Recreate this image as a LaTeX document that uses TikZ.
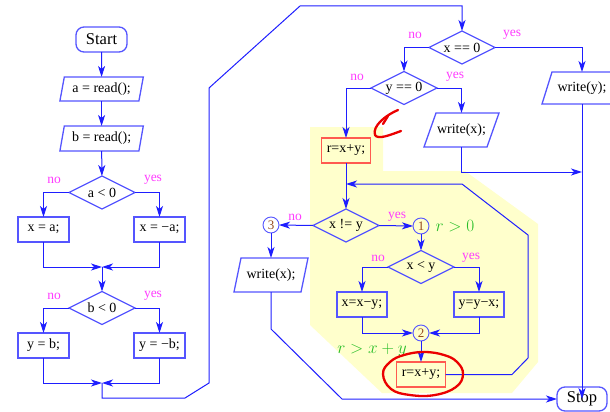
\documentclass[tikz,border=0pt]{standalone}
\usepackage{fontspec}
\setmainfont{Liberation Serif}
\usetikzlibrary{arrows.meta,shapes.geometric}
\definecolor{lineblue}{RGB}{30,30,255}
\definecolor{nodeblue}{RGB}{85,85,255}
\definecolor{lblmag}{RGB}{255,60,255}
\definecolor{numbrown}{RGB}{150,75,30}
\definecolor{condgreen}{RGB}{40,190,40}
\definecolor{boxred}{RGB}{255,90,80}
\definecolor{markred}{RGB}{235,0,0}
\definecolor{hiyellow}{RGB}{255,255,204}
% parallelogram: name, position, edge width, height, half slant, text
\newcommand\pio[6]{%
  \node[iotxt, minimum width=#3, minimum height=#4] (#1) at #2 {#6};
  \draw[iobord] ([xshift=#5]#1.north west) -- ([xshift=#5]#1.north east)
    -- ([xshift=-#5]#1.south east) -- ([xshift=-#5]#1.south west) -- cycle;}
\begin{document}
\begin{tikzpicture}[x=1pt,y=-1pt,
  txt/.style={font=\fontsize{14}{16}\selectfont},
  conn/.style={draw=lineblue, line width=1pt},
  arr/.style={conn, -{Stealth[length=11pt,width=7pt,inset=3pt]}},
  bbox/.style={txt, draw=nodeblue, line width=1.3pt, minimum width=51, minimum height=25, inner sep=0pt, outer sep=0pt},
  rbox/.style={txt, draw=boxred, line width=1.3pt, minimum width=49, minimum height=25, inner sep=0pt, outer sep=0pt},
  term/.style={draw=nodeblue, line width=1.3pt, rounded corners=8pt, minimum width=51, minimum height=25, inner sep=0pt, outer sep=0pt, font=\fontsize{16.5}{18}\selectfont},
  iotxt/.style={txt, inner sep=0pt, outer sep=0pt},
  iobord/.style={draw=nodeblue, line width=1.3pt},
  dia/.style={txt, diamond, aspect=2, draw=nodeblue, line width=1.3pt, minimum width=66, minimum height=33, inner sep=0pt, outer sep=0pt},
  circ/.style={circle, draw=nodeblue, line width=0.9pt, minimum size=16, inner sep=0pt, outer sep=0pt, text=numbrown, font=\fontsize{13}{14}\selectfont},
  lbl/.style={text=lblmag, font=\fontsize{13.5}{15}\selectfont, inner sep=0pt},
  cond/.style={text=condgreen, font=\fontsize{16}{18}\selectfont, inner sep=0pt},
  redmark/.style={draw=markred, line width=2.3pt, line cap=round, line join=round}]
\useasboundingbox (0,0) rectangle (610,412);
% highlighted region
\fill[hiyellow] (310,127) -- (383,127) -- (383,171) -- (465,171) -- (538,224)
  -- (538,362) -- (512,393) -- (382,393) -- (310,325) -- cycle;

% ---------- left column ----------
\node[term] (start) at (101.5,39.5) {Start};
\pio{ra}{(101.6,89)}{79}{24}{2.2}{a = read();}
\pio{rb}{(101.6,138.5)}{79}{25}{2.2}{b = read();}
\node[dia] (da) at (102,192.5) {a < 0};
\node[bbox] (xa) at (43.5,229.5) {x = a;};
\node[bbox] (xna) at (159.5,229.5) {x = −a;};
\node[dia] (db) at (102,308) {b < 0};
\node[bbox] (yb) at (43.5,345.5) {y = b;};
\node[bbox] (ynb) at (159.5,345.5) {y = −b;};
\node[lbl] (lna) at (54,180) {no};
\node[lbl] (lya) at (153,180) {yes};
\node[lbl] (lnb) at (54,296) {no};
\node[lbl] (lyb) at (153,296) {yes};
\coordinate (m1) at (102,267);
\coordinate (m2) at (102,383);

\draw[arr] (start) -- (ra);
\draw[arr] (ra) -- (rb);
\draw[arr] (rb) -- (da);
\draw[arr] (da.west) -| (xa.north);
\draw[arr] (da.east) -| (xna.north);
\draw[arr] (xa.south) |- (m1);
\draw[arr] (xna.south) |- (m1);
\draw[arr] (m1) -- (db.north);
\draw[arr] (db.west) -| (yb.north);
\draw[arr] (db.east) -| (ynb.north);
\draw[arr] (yb.south) |- (m2);
\draw[arr] (ynb.south) |- (m2);

% ---------- right part ----------
\node[dia] (dx0) at (462,47.5) {x == 0};
\node[dia] (dy0) at (404,88) {y == 0};
\pio{wy}{(582,88)}{70}{32}{5}{write(y);}
\pio{wx1}{(461.5,130)}{63}{34}{6}{write(x);}
\node[rbox] (r1) at (346,150.5) {r=x+y;};
\node[dia] (dne) at (346,225.5) {x != y};
\node[circ] (c1) at (421,226) {1};
\node[circ] (c3) at (271,225) {3};
\pio{wx2}{(271,275)}{67}{34}{3.5}{write(x);}
\node[dia] (dxy) at (421,267) {x < y};
\node[bbox, minimum width=50] (xxy) at (362,304.5) {x=x−y;};
\node[bbox, minimum width=50] (yyx) at (479,304.5) {y=y−x;};
\node[circ] (c2) at (421,333) {2};
\node[rbox] (r2) at (421,374.5) {r=x+y;};
\node[term, minimum width=50, minimum height=24] (stop) at (582,399) {Stop};

\node[lbl] (lnx0) at (415,35) {no};
\node[lbl] (lyx0) at (512,35) {yes};
\node[lbl] (lny0) at (357,77) {no};
\node[lbl] (lyy0) at (455,77) {yes};
\node[lbl] (lnne) at (295,217) {no};
\node[lbl] (lyne) at (397,217) {yes};
\node[lbl] (lnxy) at (378,258) {no};
\node[lbl] (lyxy) at (471,258) {yes};
\node[cond] (g1) at (455,226) {$r > 0$};
\node[cond] (g2) at (372,350) {$r > x + y$};

\coordinate (b1) at (185,398);
\coordinate (b2) at (209,383);
\coordinate (b3) at (209,88);
\coordinate (b4) at (300,6);
\coordinate (j1) at (582,172);
\coordinate (j2) at (346,184);
\coordinate (l1) at (512,374.5);
\coordinate (l2) at (528,358);
\coordinate (l3) at (528,235);
\coordinate (l4) at (462,184);
\coordinate (s1) at (271,329);
\coordinate (s2) at (342,399);

\draw[arr] (m2) |- (b1) -- (b2) -- (b3) -- (b4) -| (dx0.north);
\draw[arr] (dx0.west) -| (dy0.north);
\draw[arr] (dx0.east) -| (wy.north);
\draw[arr] (dy0.west) -| (r1.north);
\draw[arr] (dy0.east) -| (wx1.north);
\draw[arr] (wx1.south) |- (j1);
\draw[arr] (r1.south) -- (dne.north);
\draw[arr] (r2.east) -- (l1) -- (l2) -- (l3) -- (l4) -- (j2);
\draw[arr] (dne.west) -- (c3.east);
\draw[arr] (dne.east) -- (c1.west);
\draw[arr] (c3.south) -- (wx2.north);
\draw[arr] (c1.south) -- (dxy.north);
\draw[arr] (dxy.west) -| (xxy.north);
\draw[arr] (dxy.east) -| (yyx.north);
\draw[arr] (xxy.south) |- (c2.west);
\draw[arr] (yyx.south) |- (c2.east);
\draw[arr] (c2.south) -- (r2.north);
\draw[arr] (wx2.south) -- (s1) -- (s2) -- (stop.west);
\draw[arr] (wy.south) -- (stop.center);

% ---------- red hand marks ----------
\draw[redmark] (398,110) .. controls (386,115) and (372,126) .. (375,135)
  .. controls (378,140) and (390,135) .. (401,131);
\draw[redmark] (388,116) -- (383,124);
\draw[redmark] plot[smooth cycle, tension=0.7] coordinates {(383,374) (390,362) (404,355) (424,352) (444,355) (457,362) (463,374) (456,387) (435,395) (410,395) (391,389)};
\end{tikzpicture}
\end{document}
